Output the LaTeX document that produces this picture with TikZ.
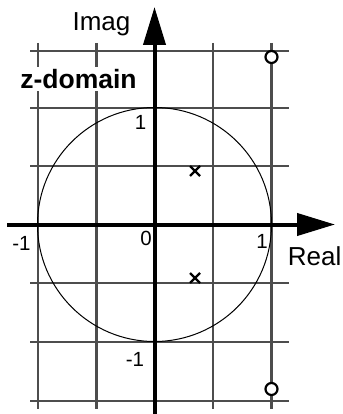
\documentclass[tikz,border=0pt]{standalone}
\usepackage{fontspec}
\setmainfont{Liberation Sans}
\usetikzlibrary{arrows.meta}
\definecolor{gridgray}{HTML}{4D4D4D}
\tikzset{
  gridline/.style={draw=gridgray, line width=2.5pt},
  axisline/.style={draw=black, line width=4pt, -{Triangle[length=38pt,width=22pt]}},
  biglabel/.style={font=\fontsize{26}{30}\selectfont, inner sep=0pt},
  numlabel/.style={font=\fontsize{20.5}{24}\selectfont, inner sep=0pt},
  zerosym/.style={draw=black, line width=2.2pt, fill=white, circle, minimum size=12pt, inner sep=0pt},
  polesym/.style={draw=black, line width=2.4pt},
}
\begin{document}
\begin{tikzpicture}[x=1pt,y=-1pt]
\useasboundingbox (0,0) rectangle (342,414);
% grid
\foreach \gx in {38,96.5,213,271.5} \draw[gridline] (\gx,43) -- (\gx,409);
\foreach \gy in {51,108,166,283,342,401} \draw[gridline] (30,\gy) -- (289,\gy);
% label with white background
\node[font=\bfseries\fontsize{26.5}{30}\selectfont, fill=white, inner sep=2pt] (zdom) at (78.5,79) {z-domain};
% unit circle
\draw[line width=1pt] (154.5,224.5) circle[radius=117];
% axes
\coordinate (xs) at (7,224.5);
\coordinate (xe) at (335,224.5);
\coordinate (ys) at (154.5,414);
\coordinate (ye) at (154.5,7);
\draw[axisline] (xs) -- (xe);
\draw[axisline] (ys) -- (ye);
% axis labels
\node[biglabel] (imag) at (101.5,24) {Imag};
\node[biglabel, anchor=east] (real) at (341.5,256) {Real};
\node[numlabel] (one1) at (140.5,122.5) {1};
\node[numlabel] (zero) at (146,238.5) {0};
\node[numlabel] (mone1) at (21.5,243) {-1};
\node[numlabel] (one2) at (262,241.5) {1};
\node[numlabel] (mone2) at (135,359) {-1};
% poles
\draw[polesym] (190,166) -- (200,176) (190,176) -- (200,166);
\draw[polesym] (190,273) -- (200,283) (190,283) -- (200,273);
% zeros
\node[zerosym] (z1) at (271.5,57) {};
\node[zerosym] (z2) at (271.5,389) {};
\end{tikzpicture}
\end{document}
